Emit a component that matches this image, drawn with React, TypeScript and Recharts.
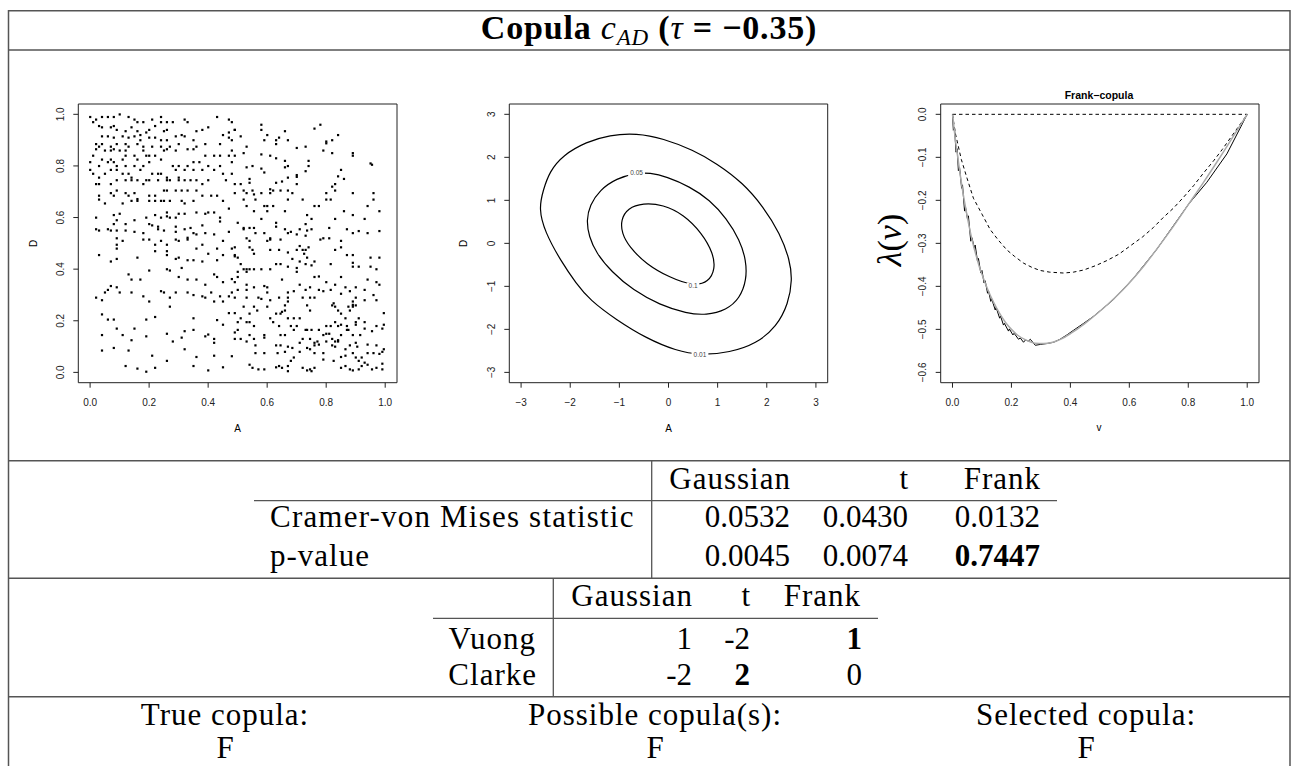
import React from 'react';
import {
  ScatterChart,
  Scatter,
  ComposedChart,
  Line,
  XAxis,
  YAxis,
  ReferenceArea,
  ReferenceDot,
} from 'recharts';

// ---------- tick values ----------
const unitTicks = [0, 0.2, 0.4, 0.6, 0.8, 1];
const normalTicks = [-3, -2, -1, 0, 1, 2, 3];
const lambdaTicks = [0, -0.1, -0.2, -0.3, -0.4, -0.5, -0.6];

// ---------- scatter sample (A, D) ----------
const samplePoints: [number, number][] = [
  [0.00,0.99],[0.02,0.98],[0.04,0.99],[0.06,0.99],[0.08,0.99],[0.10,1.00],[0.13,0.99],[0.15,0.98],[0.16,0.97],[0.18,0.97],
  [0.21,0.98],[0.24,0.99],[0.24,0.97],[0.26,0.97],[0.28,0.97],[0.32,0.98],[0.33,0.97],[0.43,0.99],[0.47,0.98],[0.48,0.97],
  [0.01,0.97],[0.03,0.955],[0.04,0.95],[0.07,0.95],[0.08,0.955],[0.09,0.94],[0.12,0.935],[0.14,0.95],[0.16,0.935],[0.17,0.92],
  [0.19,0.93],[0.20,0.94],[0.22,0.955],[0.25,0.935],[0.26,0.94],[0.29,0.915],[0.31,0.92],[0.35,0.90],[0.36,0.935],[0.38,0.94],
  [0.40,0.95],[0.45,0.92],[0.47,0.93],[0.49,0.94],[0.04,0.915],[0.06,0.915],[0.08,0.91],[0.11,0.915],[0.13,0.91],[0.15,0.915],
  [0.17,0.90],[0.20,0.91],[0.22,0.91],[0.24,0.90],[0.26,0.90],[0.32,0.915],[0.47,0.91],[0.48,0.90],
  [0.02,0.885],[0.04,0.885],[0.07,0.875],[0.09,0.885],[0.12,0.885],[0.13,0.875],[0.16,0.885],[0.18,0.875],[0.21,0.875],[0.24,0.875],
  [0.26,0.865],[0.27,0.875],[0.30,0.885],[0.36,0.875],[0.39,0.885],[0.44,0.885],[0.02,0.865],[0.03,0.875],[0.05,0.86],[0.07,0.86],
  [0.08,0.865],[0.10,0.86],[0.12,0.86],[0.15,0.84],[0.18,0.86],[0.20,0.84],[0.22,0.84],[0.25,0.86],[0.29,0.86],[0.33,0.865],
  [0.35,0.865],[0.39,0.84],[0.42,0.84],[0.44,0.84],[0.47,0.84],[0.49,0.84],[0.48,0.86],[0.01,0.84],[0.04,0.825],[0.07,0.825],
  [0.11,0.825],[0.12,0.84],[0.16,0.825],[0.19,0.84],[0.20,0.815],[0.24,0.825],[0.28,0.80],[0.30,0.80],[0.33,0.80],[0.35,0.815],
  [0.37,0.815],[0.40,0.80],[0.44,0.80],[0.48,0.815],[0.00,0.815],[0.03,0.80],[0.06,0.815],[0.08,0.815],[0.09,0.80],[0.12,0.80],
  [0.15,0.80],[0.18,0.80],
  [0.00,0.785],[0.01,0.77],[0.03,0.755],[0.05,0.77],[0.07,0.785],[0.09,0.785],[0.11,0.77],[0.13,0.77],[0.14,0.755],[0.17,0.785],
  [0.19,0.745],[0.21,0.77],[0.23,0.77],[0.24,0.77],[0.26,0.755],[0.29,0.785],[0.32,0.785],[0.35,0.785],[0.38,0.785],[0.42,0.785],
  [0.45,0.77],[0.48,0.77],[0.02,0.73],[0.03,0.73],[0.07,0.73],[0.09,0.745],[0.12,0.745],[0.14,0.745],[0.16,0.745],[0.18,0.73],
  [0.20,0.745],[0.23,0.745],[0.26,0.745],[0.27,0.745],[0.30,0.745],[0.30,0.755],[0.32,0.745],[0.34,0.745],[0.36,0.745],[0.38,0.73],
  [0.40,0.745],[0.46,0.745],[0.49,0.73],[0.03,0.685],[0.03,0.67],[0.07,0.695],[0.08,0.685],[0.09,0.705],[0.12,0.695],[0.13,0.685],
  [0.15,0.695],[0.20,0.685],[0.22,0.685],[0.25,0.705],[0.26,0.705],[0.29,0.705],[0.31,0.705],[0.33,0.705],[0.36,0.705],[0.38,0.685],
  [0.41,0.685],[0.43,0.685],[0.45,0.665],[0.47,0.635],[0.05,0.655],[0.11,0.655],[0.14,0.665],[0.16,0.665],[0.16,0.672],[0.20,0.665],
  [0.22,0.665],[0.24,0.665],[0.25,0.665],[0.27,0.665],[0.31,0.665],[0.32,0.655],[0.35,0.665],
  [0.02,0.60],[0.08,0.61],[0.10,0.615],[0.09,0.59],[0.08,0.575],[0.12,0.575],[0.15,0.59],[0.19,0.60],[0.22,0.61],[0.24,0.60],
  [0.26,0.605],[0.26,0.62],[0.27,0.60],[0.29,0.60],[0.30,0.615],[0.32,0.615],[0.36,0.62],[0.39,0.615],[0.40,0.62],[0.42,0.62],
  [0.44,0.60],[0.44,0.585],[0.02,0.555],[0.03,0.55],[0.06,0.555],[0.07,0.55],[0.09,0.55],[0.12,0.55],[0.15,0.545],[0.18,0.54],
  [0.20,0.575],[0.21,0.57],[0.23,0.555],[0.23,0.565],[0.25,0.55],[0.29,0.565],[0.29,0.545],[0.32,0.555],[0.34,0.56],[0.35,0.54],
  [0.36,0.535],[0.38,0.57],[0.39,0.54],[0.42,0.535],[0.47,0.545],[0.09,0.52],[0.11,0.51],[0.09,0.495],[0.09,0.48],[0.18,0.515],
  [0.20,0.515],[0.22,0.495],[0.22,0.47],[0.24,0.51],[0.26,0.495],[0.26,0.47],[0.29,0.515],[0.30,0.51],[0.33,0.515],[0.33,0.522],
  [0.36,0.48],[0.38,0.495],[0.40,0.46],[0.43,0.48],[0.45,0.51],[0.45,0.455],[0.48,0.48],[0.49,0.455],[0.03,0.455],[0.07,0.43],
  [0.09,0.44],[0.16,0.445],[0.26,0.455],[0.29,0.44],[0.30,0.445],[0.33,0.435],[0.35,0.435],[0.38,0.43],[0.43,0.435],[0.49,0.45],
  [0.13,0.38],[0.14,0.36],[0.17,0.36],[0.20,0.395],[0.26,0.40],[0.27,0.395],[0.31,0.405],[0.30,0.37],[0.33,0.36],[0.36,0.36],
  [0.39,0.34],[0.43,0.37],[0.45,0.35],[0.49,0.35],[0.48,0.362],[0.42,0.38],[0.07,0.335],[0.09,0.33],[0.06,0.32],[0.05,0.31],
  [0.10,0.31],[0.14,0.31],[0.18,0.295],[0.20,0.275],[0.24,0.315],[0.25,0.31],[0.27,0.29],[0.27,0.255],[0.29,0.31],[0.33,0.31],
  [0.35,0.30],[0.38,0.295],[0.39,0.29],[0.41,0.31],[0.44,0.295],[0.45,0.275],[0.42,0.275],[0.47,0.295],[0.48,0.31],[0.02,0.29],
  [0.04,0.28],[0.04,0.225],[0.06,0.205],[0.08,0.205],[0.19,0.205],[0.22,0.215],[0.35,0.21],[0.43,0.203],[0.45,0.185],[0.47,0.23],
  [0.09,0.17],[0.15,0.17],[0.32,0.16],[0.35,0.165],[0.04,0.145],[0.11,0.145],[0.14,0.125],[0.19,0.14],[0.26,0.15],[0.28,0.12],
  [0.31,0.135],[0.39,0.14],[0.40,0.147],[0.42,0.13],[0.42,0.115],[0.49,0.155],[0.49,0.13],[0.04,0.085],[0.08,0.095],[0.13,0.085],
  [0.21,0.065],[0.26,0.045],[0.32,0.09],[0.36,0.06],[0.42,0.065],[0.48,0.063],[0.12,0.025],[0.16,0.015],[0.19,0.003],[0.22,0.018],
  [0.35,0.025],[0.40,0.008],[0.45,0.02],
  [0.49,0.94],[0.51,0.915],[0.58,0.96],[0.58,0.94],[0.60,0.92],[0.59,0.90],[0.64,0.91],[0.63,0.90],[0.63,0.885],[0.67,0.90],
  [0.66,0.935],[0.76,0.945],[0.78,0.96],[0.84,0.92],[0.82,0.90],[0.80,0.895],[0.80,0.888],[0.53,0.875],[0.70,0.87],[0.73,0.875],
  [0.79,0.86],[0.82,0.85],[0.89,0.85],[0.89,0.84],[0.52,0.85],[0.58,0.845],[0.61,0.84],[0.63,0.83],[0.66,0.82],[0.74,0.82],
  [0.74,0.80],[0.95,0.81],[0.955,0.805],[0.53,0.795],[0.55,0.80],[0.58,0.79],[0.66,0.795],[0.67,0.80],[0.73,0.78],[0.85,0.785],
  [0.86,0.75],[0.84,0.76],[0.70,0.765],[0.70,0.758],[0.67,0.755],[0.65,0.74],[0.63,0.735],[0.59,0.775],[0.54,0.75],[0.54,0.735],
  [0.51,0.73],[0.70,0.73],[0.83,0.73],[0.82,0.72],
  [0.49,0.695],[0.52,0.705],[0.53,0.695],[0.55,0.705],[0.555,0.69],[0.58,0.695],[0.61,0.71],[0.61,0.695],[0.62,0.705],[0.645,0.705],
  [0.67,0.705],[0.685,0.695],[0.72,0.67],[0.76,0.645],[0.775,0.645],[0.80,0.695],[0.80,0.67],[0.815,0.67],[0.83,0.705],[0.89,0.695],
  [0.96,0.695],[0.96,0.67],[0.94,0.645],[0.98,0.625],[0.52,0.67],[0.53,0.645],[0.56,0.67],[0.555,0.625],[0.58,0.595],[0.59,0.645],
  [0.60,0.645],[0.60,0.625],[0.62,0.645],[0.66,0.625],[0.67,0.67],[0.735,0.61],[0.75,0.595],[0.83,0.595],[0.86,0.625],[0.89,0.61],
  [0.93,0.595],[0.50,0.58],[0.52,0.555],[0.52,0.56],[0.54,0.56],[0.555,0.56],[0.56,0.54],[0.59,0.54],[0.61,0.52],[0.61,0.515],
  [0.63,0.565],[0.63,0.58],[0.66,0.555],[0.67,0.54],[0.68,0.545],[0.70,0.535],[0.71,0.555],[0.73,0.53],[0.735,0.55],[0.73,0.575],
  [0.75,0.555],[0.78,0.515],[0.79,0.52],[0.81,0.52],[0.81,0.56],[0.85,0.51],[0.87,0.555],[0.89,0.54],[0.91,0.548],[0.94,0.54],
  [0.98,0.548],[0.53,0.52],[0.54,0.51],[0.60,0.51],[0.645,0.515],
  [0.49,0.485],[0.50,0.445],[0.54,0.485],[0.55,0.475],[0.555,0.46],[0.61,0.475],[0.64,0.475],[0.67,0.465],[0.685,0.44],[0.70,0.475],
  [0.71,0.49],[0.72,0.475],[0.73,0.475],[0.74,0.485],[0.725,0.46],[0.735,0.445],[0.76,0.43],[0.83,0.475],[0.85,0.485],[0.87,0.455],
  [0.89,0.455],[0.89,0.425],[0.95,0.445],[0.98,0.445],[0.51,0.42],[0.50,0.39],[0.52,0.40],[0.53,0.40],[0.53,0.39],[0.54,0.40],
  [0.555,0.40],[0.58,0.40],[0.61,0.40],[0.63,0.42],[0.645,0.42],[0.67,0.41],[0.70,0.39],[0.70,0.405],[0.71,0.43],[0.73,0.42],
  [0.75,0.415],[0.76,0.37],[0.775,0.372],[0.80,0.35],[0.815,0.42],[0.85,0.37],[0.89,0.41],[0.91,0.41],[0.95,0.41],[0.97,0.40],
  [0.50,0.37],[0.50,0.32],[0.53,0.34],[0.53,0.32],[0.555,0.33],[0.59,0.335],[0.60,0.33],[0.65,0.36],[0.67,0.31],[0.69,0.315],
  [0.71,0.34],[0.73,0.32],[0.745,0.33],[0.76,0.29],[0.79,0.315],[0.815,0.32],[0.83,0.34],[0.85,0.305],[0.865,0.33],[0.88,0.315],
  [0.90,0.33],[0.93,0.32],[0.94,0.36],[0.97,0.35],[0.98,0.34],[0.97,0.28],[0.96,0.30],[0.49,0.29],[0.53,0.29],[0.57,0.29],
  [0.58,0.285],[0.60,0.31],[0.61,0.28],[0.64,0.29],[0.66,0.26],[0.67,0.275],[0.67,0.29],[0.72,0.29],[0.735,0.26],[0.745,0.29],
  [0.775,0.32],[0.82,0.26],[0.825,0.268],[0.875,0.255],[0.89,0.275],[0.89,0.262],[0.90,0.29],[0.93,0.28],[0.51,0.21],[0.49,0.23],
  [0.52,0.255],[0.54,0.228],[0.555,0.255],[0.566,0.24],[0.60,0.255],[0.61,0.21],[0.63,0.228],[0.645,0.228],[0.65,0.235],[0.66,0.24],
  [0.67,0.21],[0.69,0.21],[0.71,0.21],[0.745,0.24],[0.83,0.255],[0.84,0.24],[0.85,0.228],[0.865,0.21],[0.88,0.24],[0.89,0.255],
  [0.90,0.26],[0.91,0.21],[0.995,0.23],[0.50,0.195],[0.53,0.195],[0.54,0.195],[0.555,0.18],[0.62,0.195],[0.64,0.18],[0.68,0.18],
  [0.70,0.18],[0.735,0.165],[0.75,0.165],[0.775,0.165],[0.80,0.18],[0.815,0.18],[0.83,0.195],[0.84,0.18],[0.85,0.185],[0.87,0.18],
  [0.875,0.165],[0.90,0.195],[0.90,0.185],[0.93,0.195],[0.97,0.18],[0.995,0.185],[0.50,0.165],[0.54,0.145],[0.59,0.145],[0.645,0.145],
  [0.66,0.145],[0.69,0.165],[0.73,0.165],[0.72,0.13],[0.745,0.13],[0.77,0.12],[0.76,0.115],[0.79,0.145],[0.80,0.15],[0.81,0.15],
  [0.82,0.13],[0.83,0.12],[0.84,0.125],[0.85,0.145],[0.87,0.165],[0.89,0.145],[0.915,0.145],[0.93,0.17],[0.955,0.16],[0.99,0.17],
  [0.51,0.13],[0.53,0.12],[0.555,0.13],[0.56,0.105],[0.59,0.135],[0.63,0.105],[0.645,0.105],[0.67,0.10],[0.685,0.095],[0.71,0.115],
  [0.735,0.095],[0.745,0.09],[0.76,0.105],[0.775,0.108],[0.80,0.12],[0.82,0.105],[0.83,0.10],[0.84,0.12],[0.865,0.09],[0.88,0.105],
  [0.90,0.115],[0.905,0.10],[0.94,0.108],[0.97,0.105],[0.99,0.08],[0.995,0.09],[0.56,0.075],[0.59,0.075],[0.635,0.075],[0.66,0.08],
  [0.71,0.08],[0.76,0.075],[0.79,0.075],[0.825,0.045],[0.85,0.06],[0.865,0.065],[0.89,0.075],[0.90,0.058],[0.91,0.045],[0.92,0.058],
  [0.94,0.075],[0.96,0.075],[0.98,0.072],[0.54,0.03],[0.55,0.018],[0.57,0.012],[0.59,0.012],[0.63,0.02],[0.64,0.025],[0.65,0.018],
  [0.67,0.025],[0.68,0.045],[0.69,0.058],[0.72,0.018],[0.735,0.008],[0.745,0.012],[0.76,0.018],[0.79,0.05],[0.85,0.018],[0.865,0.025],
  [0.88,0.012],[0.89,0.008],[0.91,0.012],[0.92,0.025],[0.93,0.038],[0.94,0.03],[0.955,0.012],[0.97,0.018],[0.99,0.034],[0.99,0.012],
  [0.67,0.005],[0.75,0.005],
];

// ---------- contour lines (normal scale) ----------
const contourLevel001: [number, number][] = [
  [-0.65,2.56],[-1.2,2.52],[-1.67,2.36],[-2.15,2.05],[-2.42,1.67],[-2.55,1.24],[-2.64,0.81],[-2.52,0.27],[-2.18,-0.43],
  [-1.88,-0.93],[-1.6,-1.32],[-1.06,-1.78],[-0.45,-2.21],[0.16,-2.5],[0.64,-2.6],[1.25,-2.54],[1.79,-2.33],[2.2,-1.94],
  [2.44,-1.4],[2.52,-0.85],[2.47,-0.39],[2.27,0.23],[1.93,0.85],[1.52,1.4],[0.98,1.86],[0.5,2.17],[-0.11,2.44],
];
const contourLevel005: [number, number][] = [
  [-0.65,1.64],[-1.06,1.51],[-1.4,1.24],[-1.6,0.89],[-1.67,0.54],[-1.62,0.16],[-1.47,-0.23],[-1.16,-0.66],[-0.72,-1.09],
  [-0.18,-1.43],[0.37,-1.63],[0.77,-1.67],[1.18,-1.55],[1.45,-1.28],[1.59,-0.85],[1.58,-0.39],[1.45,0.08],[1.18,0.58],
  [0.84,1.01],[0.43,1.32],[-0.04,1.55],[-0.38,1.64],
];
const contourLevel01: [number, number][] = [
  [-0.52,0.94],[-0.83,0.82],[-0.97,0.55],[-0.95,0.23],[-0.8,-0.08],[-0.46,-0.48],[0.03,-0.8],[0.5,-0.99],[0.82,-0.9],
  [0.95,-0.59],[0.91,-0.23],[0.68,0.24],[0.31,0.67],[-0.11,0.9],
];
const contourLabelX = [-0.65, 0.5, 0.64];
const contourLabelY = [1.64, -0.99, -2.6];
const contourLabelText = ['0.05', '0.1', '0.01'];

// ---------- lambda(v) curves ----------
const upperBound: [number, number][] = [[0, 0], [1, 0]];
const lowerBound: [number, number][] = [
  [0,0],[0.01,-0.045],[0.03,-0.105],[0.05,-0.15],[0.071,-0.195],[0.1,-0.232],[0.128,-0.268],[0.155,-0.292],[0.184,-0.315],
  [0.21,-0.33],[0.241,-0.346],[0.27,-0.356],[0.297,-0.363],[0.33,-0.367],[0.377,-0.369],[0.41,-0.367],[0.445,-0.362],
  [0.485,-0.352],[0.524,-0.34],[0.565,-0.325],[0.603,-0.306],[0.645,-0.285],[0.682,-0.263],[0.715,-0.24],[0.75,-0.218],
  [0.785,-0.192],[0.818,-0.166],[0.85,-0.138],[0.886,-0.108],[0.915,-0.082],[0.943,-0.055],[0.97,-0.029],[1,0],
];
const empiricalLambda: [number, number][] = [
  [0,0],[0.003,-0.037],[0.007,-0.033],[0.012,-0.088],[0.016,-0.08],[0.02,-0.131],[0.024,-0.123],[0.031,-0.172],[0.034,-0.164],
  [0.041,-0.225],[0.044,-0.215],[0.051,-0.244],[0.054,-0.236],[0.062,-0.295],[0.066,-0.287],[0.074,-0.31],[0.077,-0.304],
  [0.085,-0.342],[0.088,-0.335],[0.096,-0.369],[0.1,-0.363],[0.107,-0.392],[0.111,-0.387],[0.119,-0.416],[0.122,-0.41],
  [0.13,-0.435],[0.133,-0.429],[0.145,-0.455],[0.148,-0.449],[0.16,-0.474],[0.163,-0.469],[0.173,-0.49],[0.176,-0.486],
  [0.19,-0.504],[0.193,-0.499],[0.205,-0.513],[0.209,-0.509],[0.224,-0.523],[0.23,-0.52],[0.241,-0.53],[0.247,-0.525],
  [0.258,-0.527],[0.264,-0.523],[0.281,-0.537],[0.298,-0.535],[0.32,-0.533],[0.343,-0.53],[0.365,-0.523],[0.388,-0.513],
  [0.411,-0.502],[0.445,-0.486],[0.478,-0.47],[0.546,-0.431],[0.614,-0.381],[0.693,-0.314],[0.801,-0.209],[0.863,-0.158],
  [0.931,-0.092],[1,0],
];
const frankLambda: [number, number][] = [
  [0,0],[0.01,-0.06],[0.02,-0.11],[0.03,-0.158],[0.04,-0.2],[0.05,-0.238],[0.06,-0.272],[0.07,-0.302],[0.08,-0.328],
  [0.09,-0.352],[0.1,-0.372],[0.12,-0.408],[0.14,-0.438],[0.16,-0.463],[0.18,-0.484],[0.2,-0.5],[0.22,-0.513],[0.25,-0.525],
  [0.28,-0.532],[0.31,-0.533],[0.34,-0.53],[0.37,-0.522],[0.4,-0.51],[0.45,-0.486],[0.5,-0.458],[0.55,-0.427],[0.6,-0.392],
  [0.65,-0.352],[0.7,-0.307],[0.75,-0.26],[0.8,-0.21],[0.85,-0.16],[0.9,-0.108],[0.95,-0.054],[1,0],
];

// ---------- tables ----------
const copulaNames = ['Gaussian', 't', 'Frank'];
const cvmStatistic = ['0.0532', '0.0430', '0.0132'];
const cvmPValue = ['0.0045', '0.0074', '0.7447'];
const cvmPValueBold = [false, false, true];
const vuongScores = ['1', '-2', '1'];
const vuongBold = [false, false, true];
const clarkeScores = ['-2', '2', '0'];
const clarkeBold = [false, true, false];
const summaryLabels = ['True copula:', 'Possible copula(s):', 'Selected copula:'];
const summaryValues = ['F', 'F', 'F'];

// ---------- helpers ----------
const SANS = '"Liberation Sans", Arial, Helvetica, sans-serif';
const SERIF = '"Liberation Serif", "Times New Roman", serif';
const RULE = '#555';

const fmt1 = (v: number) => {
  const s = Math.abs(v).toFixed(1);
  return v < -1e-9 ? '\u2212' + s : s;
};
const fmtInt = (v: number) => (v < 0 ? '\u2212' + Math.abs(v) : String(v));

const makeXTick = (f: (v: number) => string) => (props: any) => {
  const { x, y, payload } = props;
  return (
    <text x={x} y={y + 16} textAnchor="middle" fontFamily={SANS} fontSize={10} fill="#222">
      {f(payload.value)}
    </text>
  );
};
const makeYTick = (f: (v: number) => string) => (props: any) => {
  const { x, y, payload } = props;
  const X = x - 7.7;
  return (
    <text
      x={X}
      y={y}
      transform={`rotate(-90 ${X} ${y})`}
      textAnchor="middle"
      fontFamily={SANS}
      fontSize={10}
      fill="#222"
    >
      {f(payload.value)}
    </text>
  );
};

const dotShape = (props: any) => (
  <rect x={props.cx - 1} y={props.cy - 1} width={2.2} height={2.2} fill="#000" />
);

const toXY = (arr: [number, number][]) => arr.map(([x, y]) => ({ x, y }));
const toVL = (arr: [number, number][]) => arr.map(([v, l]) => ({ v, l }));

const CHART_W = 430;
const CHART_H = 390;
const CHART_TOP = 60;
const MARGIN_TOP = 44;
const X_AXIS_H = 67.3;

function ScatterPanel() {
  const data = samplePoints.map(([a, d]) => ({ a, d }));
  return (
    <div style={{ position: 'absolute', left: 0, top: CHART_TOP }}>
      <ScatterChart width={CHART_W} height={CHART_H} margin={{ top: MARGIN_TOP, right: 33, bottom: 0, left: 0 }}>
        <XAxis
          type="number"
          dataKey="a"
          domain={[-0.04, 1.04]}
          ticks={unitTicks}
          interval={0}
          axisLine={false}
          tickSize={5}
          tickMargin={2}
          tickLine={{ stroke: '#222' }}
          height={X_AXIS_H}
          tick={makeXTick(fmt1)}
          allowDataOverflow
        />
        <YAxis
          type="number"
          dataKey="d"
          domain={[-0.04, 1.04]}
          ticks={unitTicks}
          interval={0}
          axisLine={false}
          tickSize={5}
          tickMargin={2}
          tickLine={{ stroke: '#222' }}
          width={78.3}
          tick={makeYTick(fmt1)}
          allowDataOverflow
        />
        <Scatter data={data} shape={dotShape} isAnimationActive={false} />
        <ReferenceArea x1={-0.04} x2={1.04} y1={-0.04} y2={1.04} fill="none" stroke="#222" strokeWidth={1} ifOverflow="visible" />
      </ScatterChart>
    </div>
  );
}

function ContourPanel() {
  return (
    <div style={{ position: 'absolute', left: 430, top: CHART_TOP }}>
      <ComposedChart width={CHART_W} height={CHART_H} margin={{ top: MARGIN_TOP, right: 32.3, bottom: 0, left: 0 }}>
        <XAxis
          type="number"
          dataKey="x"
          domain={[-3.24, 3.24]}
          ticks={normalTicks}
          interval={0}
          axisLine={false}
          tickSize={5}
          tickMargin={2}
          tickLine={{ stroke: '#222' }}
          height={X_AXIS_H}
          tick={makeXTick(fmtInt)}
          allowDataOverflow
        />
        <YAxis
          type="number"
          dataKey="y"
          domain={[-3.24, 3.24]}
          ticks={normalTicks}
          interval={0}
          axisLine={false}
          tickSize={5}
          tickMargin={2}
          tickLine={{ stroke: '#222' }}
          width={79.3}
          tick={makeYTick(fmtInt)}
          allowDataOverflow
        />
        <Line data={toXY(contourLevel001)} dataKey="y" type="basisClosed" stroke="#000" strokeWidth={1.2} dot={false} activeDot={false} isAnimationActive={false} />
        <Line data={toXY(contourLevel005)} dataKey="y" type="basisClosed" stroke="#000" strokeWidth={1.2} dot={false} activeDot={false} isAnimationActive={false} />
        <Line data={toXY(contourLevel01)} dataKey="y" type="basisClosed" stroke="#000" strokeWidth={1.2} dot={false} activeDot={false} isAnimationActive={false} />
        {contourLabelText.map((t, i) => (
          <ReferenceDot
            key={t}
            x={contourLabelX[i]}
            y={contourLabelY[i]}
            r={0}
            ifOverflow="visible"
            shape={(p: any) => (
              <g>
                <rect x={p.cx - t.length * 2.1} y={p.cy - 3.5} width={t.length * 4.2} height={7} fill="#fff" />
                <text x={p.cx} y={p.cy + 2.2} textAnchor="middle" fontFamily={SANS} fontSize={6.5} fill="#444">
                  {t}
                </text>
              </g>
            )}
          />
        ))}
        <ReferenceArea x1={-3.24} x2={3.24} y1={-3.24} y2={3.24} fill="none" stroke="#222" strokeWidth={1} ifOverflow="visible" />
      </ComposedChart>
    </div>
  );
}

function LambdaPanel() {
  return (
    <div style={{ position: 'absolute', left: 860, top: CHART_TOP }}>
      <ComposedChart width={CHART_W} height={CHART_H} margin={{ top: MARGIN_TOP, right: 31, bottom: 0, left: 0 }}>
        <XAxis
          type="number"
          dataKey="v"
          domain={[-0.04, 1.04]}
          ticks={unitTicks}
          interval={0}
          axisLine={false}
          tickSize={5}
          tickMargin={2}
          tickLine={{ stroke: '#222' }}
          height={X_AXIS_H}
          tick={makeXTick(fmt1)}
          allowDataOverflow
        />
        <YAxis
          type="number"
          dataKey="l"
          domain={[-0.624, 0.024]}
          ticks={lambdaTicks}
          interval={0}
          axisLine={false}
          tickSize={5}
          tickMargin={2}
          tickLine={{ stroke: '#222' }}
          width={80.7}
          tick={makeYTick(fmt1)}
          allowDataOverflow
        />
        <Line data={toVL(upperBound)} dataKey="l" type="linear" stroke="#000" strokeWidth={1} strokeDasharray="3.5 3" dot={false} activeDot={false} isAnimationActive={false} />
        <Line data={toVL(lowerBound)} dataKey="l" type="linear" stroke="#000" strokeWidth={1} strokeDasharray="3.5 3" dot={false} activeDot={false} isAnimationActive={false} />
        <Line data={toVL(empiricalLambda)} dataKey="l" type="linear" stroke="#000" strokeWidth={1} dot={false} activeDot={false} isAnimationActive={false} />
        <Line data={toVL(frankLambda)} dataKey="l" type="monotone" stroke="#aaa" strokeWidth={1.5} dot={false} activeDot={false} isAnimationActive={false} />
        <ReferenceArea x1={-0.04} x2={1.04} y1={-0.624} y2={0.024} fill="none" stroke="#222" strokeWidth={1} ifOverflow="visible" />
      </ComposedChart>
    </div>
  );
}

function Overlay() {
  const L = 8.5;
  const R = 1290;
  const hLine = (y: number, x1 = L, x2 = R, w = 1.5) => <line x1={x1} x2={x2} y1={y} y2={y} stroke={RULE} strokeWidth={w} />;
  const vLine = (x: number, y1: number, y2: number, w = 1.5) => <line x1={x} x2={x} y1={y1} y2={y2} stroke={RULE} strokeWidth={w} />;
  const cvmRight = [790, 908, 1040];
  const t2Right = [692, 750, 862];
  const t2HeadRight = [692, 750, 860];
  const sumX = [225, 655, 1086];
  const txt = { fontFamily: SERIF, fontSize: 31, fill: '#000' } as const;
  const word = { ...txt, letterSpacing: 1 } as const;
  return (
    <svg width={1293} height={766} style={{ position: 'absolute', left: 0, top: 0, pointerEvents: 'none' }}>
      {/* frame */}
      {hLine(10.7)}
      {vLine(L, 10, 766)}
      {vLine(R, 10, 766)}
      {hLine(50)}
      {hLine(460.7)}
      {hLine(578.3)}
      {hLine(696.7)}
      {/* title */}
      <text x={649} y={39} textAnchor="middle" fontFamily={SERIF} fontSize={34} fontWeight="bold" letterSpacing={0.8}>
        Copula{' '}
        <tspan fontStyle="italic" fontWeight="normal">c</tspan>
        <tspan fontStyle="italic" fontWeight="normal" fontSize={23} dy={6}>AD</tspan>
        <tspan dy={-6}> (</tspan>
        <tspan fontStyle="italic" fontWeight="normal">τ</tspan>
        <tspan> = −0.35)</tspan>
      </text>
      {/* plot texts */}
      <text x={36.6} y={243.3} transform="rotate(-90 36.6 243.3)" textAnchor="middle" fontFamily={SANS} fontSize={10}>D</text>
      <text x={237.5} y={432} textAnchor="middle" fontFamily={SANS} fontSize={10}>A</text>
      <text x={466.6} y={243.3} transform="rotate(-90 466.6 243.3)" textAnchor="middle" fontFamily={SANS} fontSize={10}>D</text>
      <text x={668.5} y={432} textAnchor="middle" fontFamily={SANS} fontSize={10}>A</text>
      <text x={1099} y={430.6} textAnchor="middle" fontFamily={SANS} fontSize={10}>v</text>
      <text x={1099} y={98.8} textAnchor="middle" fontFamily={SANS} fontSize={10.5} fontWeight="bold">Frank−copula</text>
      <text x={901} y={240} transform="rotate(-90 901 240)" textAnchor="middle" fontFamily={SERIF} fontSize={34}>
        <tspan fontStyle="italic">λ</tspan>(<tspan fontStyle="italic">v</tspan>)
      </text>
      {/* CvM table */}
      {hLine(500.7, 254, 1057, 1.3)}
      {vLine(651.7, 460.7, 578.3, 1.3)}
      {copulaNames.map((n, i) => (
        <text key={'h' + n} x={cvmRight[i] + 1} y={489} textAnchor="end" {...word}>{n}</text>
      ))}
      <text x={270} y={527} {...word} letterSpacing={1.2}>Cramer-von Mises statistic</text>
      <text x={270} y={566} {...word}>p-value</text>
      {cvmStatistic.map((v, i) => (
        <text key={'s' + i} x={cvmRight[i]} y={527} textAnchor="end" {...txt}>{v}</text>
      ))}
      {cvmPValue.map((v, i) => (
        <text key={'p' + i} x={cvmRight[i]} y={566} textAnchor="end" {...txt} fontWeight={cvmPValueBold[i] ? 'bold' : 'normal'}>{v}</text>
      ))}
      {/* Vuong / Clarke table */}
      {hLine(618.3, 433, 878, 1.3)}
      {vLine(553.3, 578.3, 696.7, 1.3)}
      {copulaNames.map((n, i) => (
        <text key={'h2' + n} x={t2HeadRight[i] + 1} y={605.7} textAnchor="end" {...word}>{n}</text>
      ))}
      <text x={536} y={649} textAnchor="end" {...word}>Vuong</text>
      <text x={537} y={685} textAnchor="end" {...word}>Clarke</text>
      {vuongScores.map((v, i) => (
        <text key={'v' + i} x={t2Right[i]} y={649} textAnchor="end" {...txt} fontWeight={vuongBold[i] ? 'bold' : 'normal'}>{v}</text>
      ))}
      {clarkeScores.map((v, i) => (
        <text key={'c' + i} x={t2Right[i]} y={685} textAnchor="end" {...txt} fontWeight={clarkeBold[i] ? 'bold' : 'normal'}>{v}</text>
      ))}
      {/* summary */}
      {summaryLabels.map((s, i) => (
        <text key={s} x={sumX[i]} y={725} textAnchor="middle" {...word}>{s}</text>
      ))}
      {summaryValues.map((s, i) => (
        <text key={'f' + i} x={sumX[i]} y={758} textAnchor="middle" {...txt}>{s}</text>
      ))}
    </svg>
  );
}

export default function App() {
  return (
    <div style={{ position: 'absolute', left: 0, top: 0, width: 1293, height: 766, background: '#fff', overflow: 'hidden' }}>
      <ScatterPanel />
      <ContourPanel />
      <LambdaPanel />
      <Overlay />
    </div>
  );
}
